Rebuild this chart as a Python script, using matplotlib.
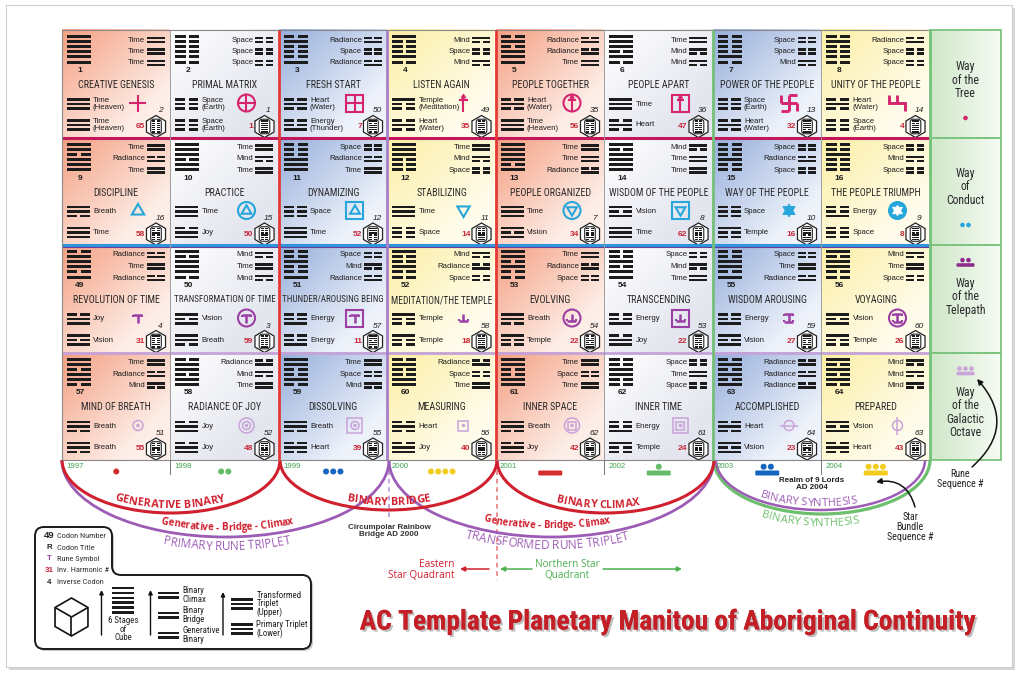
import numpy as np
import matplotlib
matplotlib.use('Agg')
import matplotlib.pyplot as plt
from matplotlib.patches import (Rectangle, Polygon, Circle, PathPatch, RegularPolygon,
                                FancyBboxPatch, Arc)
from matplotlib.path import Path
from matplotlib.collections import PatchCollection
from matplotlib.font_manager import FontProperties, fontManager
from matplotlib.colors import to_rgb
import matplotlib.patheffects as pe

# ---------------------------------------------------------------- DATA
codons = [1, 2, 3, 4, 5, 6, 7, 8,
          9, 10, 11, 12, 13, 14, 15, 16,
          49, 50, 51, 52, 53, 54, 55, 56,
          57, 58, 59, 60, 61, 62, 63, 64]
titles = ['CREATIVE GENESIS', 'PRIMAL MATRIX', 'FRESH START', 'LISTEN AGAIN',
          'PEOPLE TOGETHER', 'PEOPLE APART', 'POWER OF THE PEOPLE', 'UNITY OF THE PEOPLE',
          'DISCIPLINE', 'PRACTICE', 'DYNAMIZING', 'STABILIZING',
          'PEOPLE ORGANIZED', 'WISDOM OF THE PEOPLE', 'WAY OF THE PEOPLE', 'THE PEOPLE TRIUMPH',
          'REVOLUTION OF TIME', 'TRANSFORMATION OF TIME', 'THUNDER/AROUSING BEING', 'MEDITATION/THE TEMPLE',
          'EVOLVING', 'TRANSCENDING', 'WISDOM AROUSING', 'VOYAGING',
          'MIND OF BREATH', 'RADIANCE OF JOY', 'DISSOLVING', 'MEASURING',
          'INNER SPACE', 'INNER TIME', 'ACCOMPLISHED', 'PREPARED']
# binary pairs top / middle / bottom : T=Time S=Space R=Radiance M=Mind
bigrams = ['TTT', 'SSS', 'RSR', 'MSM', 'RRT', 'TMM', 'SSM', 'RSS',
           'TRT', 'TMT', 'SRT', 'TMS', 'TTR', 'MTT', 'SRS', 'SMS',
           'RTR', 'MTM', 'SMR', 'MRS', 'TRS', 'SMT', 'STR', 'MTS',
           'TRM', 'RMT', 'TSM', 'RST', 'TST', 'STS', 'RRR', 'MMM']
upper_trigrams = ['Time (Heaven)', 'Space (Earth)', 'Heart (Water)', 'Temple (Meditation)',
                  'Heart (Water)', 'Time', 'Space (Earth)', 'Heart (Water)',
                  'Breath', 'Time', 'Space', 'Time', 'Time', 'Vision', 'Space', 'Energy',
                  'Joy', 'Vision', 'Energy', 'Temple', 'Breath', 'Energy', 'Energy', 'Vision',
                  'Breath', 'Joy', 'Breath', 'Heart', 'Breath', 'Energy', 'Heart', 'Vision']
lower_trigrams = ['Time (Heaven)', 'Space (Earth)', 'Energy (Thunder)', 'Heart (Water)',
                  'Time (Heaven)', 'Heart', 'Heart (Water)', 'Space (Earth)',
                  'Time', 'Joy', 'Time', 'Space', 'Vision', 'Time', 'Temple', 'Space',
                  'Vision', 'Breath', 'Energy', 'Temple', 'Temple', 'Joy', 'Vision', 'Temple',
                  'Breath', 'Joy', 'Heart', 'Joy', 'Joy', 'Temple', 'Vision', 'Heart']
inverse_codons = [2, 1, 50, 49, 35, 36, 13, 14,
                  16, 15, 12, 11, 7, 8, 10, 9,
                  4, 3, 57, 58, 54, 53, 59, 60,
                  51, 52, 55, 56, 62, 61, 64, 63]
harmonics = [65, 1, 7, 35, 56, 47, 32, 4,
             58, 50, 52, 14, 34, 62, 16, 8,
             31, 59, 11, 18, 22, 22, 27, 26,
             55, 48, 39, 40, 42, 24, 23, 43]
rune_glyphs = ['plus', 'plus', 'plus', 'dagger', 'dagger', 'dagger', 'swas', 'swas2',
               'tri', 'tri', 'tri', 'itri', 'itri', 'itri', 'star', 'star',
               'T', 'T', 'T', 'iT', 'iT', 'iT', 'ibeam', 'ibeam',
               'dot', 'dot', 'dot', 'dot', 'dot', 'dot', 'hbar', 'vbar']
rune_frames = ['', 'c', 's', '', 'c', 's', '', '',
               '', 'c', 's', '', 'c', 's', '', 'c',
               '', 'c', 's', '', 'c', 's', '', 'c',
               'c', 'cc', 'sc', 's', 'cs', 'ss', 'c', 'c']
years = [1997, 1998, 1999, 2000, 2001, 2002, 2003, 2004]
year_counts = [1, 2, 3, 4, 5, 6, 7, 8]
ways = ['Way\nof the\nTree', 'Way\nof\nConduct', 'Way\nof the\nTelepath', 'Way\nof the\nGalactic\nOctave']
way_counts = [1, 2, 7, 8]
legend_items = [('49', 'Codon Number'), ('R', 'Codon Title'), ('T', 'Rune Symbol'),
                ('31', 'Inv. Harmonic #'), ('4', 'Inverse Codon')]
main_title = 'AC Template Planetary Manitou of Aboriginal Continuity'

# ---------------------------------------------------------------- STYLE
names = {f.name for f in fontManager.ttflist}
def pick(*fams):
    for f in fams:
        if f in names:
            return f
    return 'DejaVu Sans'
NARROW = pick('Liberation Sans Narrow', 'Roboto Condensed', 'DejaVu Sans Condensed', 'Roboto')
SANS = pick('Liberation Sans', 'Open Sans', 'DejaVu Sans')
ARCF = pick('Open Sans', 'Lato', 'DejaVu Sans')

BIG = {'T': ('Time', (1, 1)), 'S': ('Space', (0, 0)), 'R': ('Radiance', (0, 1)), 'M': ('Mind', (1, 0))}
TRI = {'Time': (1, 1, 1), 'Space': (0, 0, 0), 'Heart': (0, 1, 0), 'Energy': (0, 0, 1),
       'Temple': (1, 0, 0), 'Breath': (1, 1, 0), 'Vision': (1, 0, 1), 'Joy': (0, 1, 1)}
col_grad = [('#f5a184', '#fdeee8'), ('#ffffff', '#e4e6ef'), ('#98b0dc', '#eef2fa'), ('#fcefa6', '#fffcec')]
rune_colors = ['#d6246e', '#27a6dc', '#9b3fa5', '#c9a3da']
year_colors = ['#d32f2f', '#66bb6a', '#1565c0', '#f2cd1f']
way_colors = ['#d6246e', '#27a6dc', '#8e2c8e', '#c9a3da']
RED = '#d0202e'
PURPLE = '#9c5bb5'
GREEN = '#6cbf6c'
INK = '#1c1c1c'

GX0, GY0, CW, CH = 62.0, 30.0, 108.5, 107.5
RX1 = 1001.0

fig = plt.figure(figsize=(10.18, 6.77), dpi=100)
fig.patch.set_facecolor('white')
ax = fig.add_axes([0, 0, 1, 1])
renderer = fig.canvas.get_renderer()

def tw(s, fp):
    return renderer.get_text_width_height_descent(s, fp, ismath=False)[0]

bars = []
legend_bars = []
def line_bar(x, yc, w, h, solid, gap=0.16, store=None):
    store = bars if store is None else store
    if solid:
        store.append(Rectangle((x, yc - h / 2), w, h))
    else:
        sw = w * (1 - gap) / 2
        store.append(Rectangle((x, yc - h / 2), sw, h))
        store.append(Rectangle((x + w - sw, yc - h / 2), sw, h))

def grad_img(c1, c2, n=24, diag=True):
    c1, c2 = np.array(to_rgb(c1)), np.array(to_rgb(c2))
    u = np.linspace(0, 1, n)
    U, V = np.meshgrid(u, u)
    g = np.clip(0.65 * U + 0.65 * V, 0, 1)[..., None] if diag else U[..., None]
    return c1 * (1 - g) + c2 * g

def seg(pts, color, lw, z=5):
    xs, ys = zip(*pts)
    ax.plot(xs, ys, color=color, lw=lw, solid_capstyle='butt', solid_joinstyle='miter', zorder=z)

# page
page = Rectangle((6, 5), 1006, 662, fc='white', ec='#cfcfcf', lw=0.8, zorder=-10,
                 path_effects=[pe.withSimplePatchShadow(offset=(2, -2), shadow_rgbFace='#bbbbbb', alpha=0.6)])
ax.add_patch(page)

# ---------------------------------------------------------------- RUNES
def draw_rune(cx, cy, glyph, frame, color, row):
    lw = 1.5 if row < 3 else 1.1
    if row == 3:
        fr = {0: [], 1: [5.0], 2: [7.5, 4.0]}[len(frame)]
    else:
        fr = {0: [], 1: [8.5]}[len(frame)]
    for f, rr in zip(frame, fr):
        if glyph == 'star':
            ax.add_patch(Circle((cx, cy), rr, fc=color, ec=color, lw=lw, zorder=5))
        elif f == 'c':
            ax.add_patch(Circle((cx, cy), rr, fill=False, ec=color, lw=lw, zorder=5))
        else:
            ax.add_patch(Rectangle((cx - rr, cy - rr), 2 * rr, 2 * rr, fill=False, ec=color, lw=lw, zorder=5))
    inner = fr[-1] if fr else None
    def P(u, v, s):
        return (cx + u * s, cy + v * s)
    if glyph == 'plus':
        s = inner if inner else 8.5
        seg([P(-1, 0, s), P(1, 0, s)], color, lw)
        seg([P(0, -1, s), P(0, 1, s)], color, lw)
    elif glyph == 'dagger':
        s = inner if inner else 9
        seg([P(0, -0.9, s), P(0, 1, s)], color, lw)
        seg([P(-0.45, -0.3, s), P(0.45, -0.3, s)], color, lw)
        ax.add_patch(Polygon([P(0, -1.0, s), P(-0.28, -0.55, s), P(0.28, -0.55, s)], closed=True,
                             fc=color, ec=color, lw=0.5, zorder=5))
    elif glyph == 'swas':
        s = 8
        seg([P(0, -1, s), P(0, 1, s)], color, lw + 0.6)
        seg([P(-1, 0, s), P(1, 0, s)], color, lw + 0.6)
        seg([P(0, -1, s), P(1, -1, s)], color, lw + 0.6)
        seg([P(1, 0, s), P(1, 1, s)], color, lw + 0.6)
        seg([P(0, 1, s), P(-1, 1, s)], color, lw + 0.6)
        seg([P(-1, 0, s), P(-1, -1, s)], color, lw + 0.6)
    elif glyph == 'swas2':
        s = 8
        seg([P(-1, -1, s), P(-1, 0, s), P(1, 0, s), P(1, 1, s)], color, lw + 0.6)
        seg([P(0, -1, s), P(0, 0, s)], color, lw + 0.6)
    elif glyph in ('tri', 'itri', 'star'):
        s = 5.2 if inner else 6.5
        up = [P(0, -1, s), P(-0.95, 0.62, s), P(0.95, 0.62, s)]
        dn = [P(0, 1, s), P(-0.95, -0.62, s), P(0.95, -0.62, s)]
        if glyph == 'tri':
            ax.add_patch(Polygon(up, closed=True, fill=False, ec=color, lw=lw, zorder=6))
        elif glyph == 'itri':
            ax.add_patch(Polygon(dn, closed=True, fill=False, ec=color, lw=lw, zorder=6))
        else:
            fc = 'white' if inner else color
            for tri in (up, dn):
                ax.add_patch(Polygon(tri, closed=True, fc=fc, ec=fc, lw=0.6, zorder=6))
    elif glyph in ('T', 'iT'):
        s = 4.5
        k = 1 if glyph == 'T' else -1
        seg([P(-1, -0.7 * k, s), P(1, -0.7 * k, s)], color, lw + 0.3)
        seg([P(0, -0.7 * k, s), P(0, 1 * k, s)], color, lw + 0.3)
        seg([P(-1, -0.7 * k, s), P(-1, -0.25 * k, s)], color, lw)
        seg([P(1, -0.7 * k, s), P(1, -0.25 * k, s)], color, lw)
    elif glyph == 'ibeam':
        s = 4.5
        for k in (1, -1):
            seg([P(-1, 0.9 * k, s), P(1, 0.9 * k, s)], color, lw + 0.3)
            seg([P(-1, 0.9 * k, s), P(-1, 0.45 * k, s)], color, lw)
            seg([P(1, 0.9 * k, s), P(1, 0.45 * k, s)], color, lw)
        seg([P(0, -0.9, s), P(0, 0.9, s)], color, lw + 0.3)
    elif glyph == 'dot':
        ax.add_patch(Circle((cx, cy), 1.4, fc=color, ec=color, lw=0.5, zorder=6))
    elif glyph == 'hbar':
        seg([P(-1, 0, 9), P(1, 0, 9)], color, lw)
    elif glyph == 'vbar':
        seg([P(0, -1, 9), P(0, 1, 9)], color, lw)

# ---------------------------------------------------------------- CELLS
fp_lab = FontProperties(family=SANS, size=5.6)
fp_tit = FontProperties(family=NARROW, size=7.2)
fp_num = FontProperties(family=SANS, size=6.0, weight='bold')
for k in range(32):
    r, c = divmod(k, 8)
    x0 = GX0 + c * CW
    y0 = GY0 + r * CH
    c1, c2 = col_grad[c % 4]
    ax.imshow(grad_img(c1, c2), extent=(x0, x0 + CW, y0 + CH, y0), origin='upper',
              interpolation='bilinear', zorder=0)
    # hexagram
    hexlines = sum((BIG[ch][1] for ch in bigrams[k]), ())
    for i, v in enumerate(hexlines):
        line_bar(x0 + 5, y0 + 6.5 + i * 5.1, 24, 3.0, v)
    ax.text(x0 + 18, y0 + 40.5, str(codons[k]), ha='center', va='center', fontproperties=fp_num,
            color=INK, zorder=6)
    # binary pairs
    for j, ch in enumerate(bigrams[k]):
        yc = y0 + 10 + j * 11.5
        nm, ln = BIG[ch]
        line_bar(x0 + 85, yc - 2.1, 18, 2.4, ln[0])
        line_bar(x0 + 85, yc + 2.1, 18, 2.4, ln[1])
        ax.text(x0 + 83, yc, nm, ha='right', va='center', fontproperties=fp_lab, color=INK, zorder=6)
    # title
    fs = 7.2
    w = tw(titles[k], fp_tit)
    if w > 101:
        fs = 7.2 * 101 / w
    ax.text(x0 + CW / 2, y0 + 55, titles[k], ha='center', va='center', color='#2a2a2a',
            fontproperties=FontProperties(family=NARROW, size=fs), zorder=6)
    # trigrams
    for j, lab in enumerate((upper_trigrams[k], lower_trigrams[k])):
        yc = y0 + 74 + j * 21
        nm = lab.split(' (')[0]
        for i, v in enumerate(TRI[nm]):
            line_bar(x0 + 5, yc - 4.5 + i * 4.5, 23, 2.6, v)
        ax.text(x0 + 31, yc, lab.replace(' (', '\n('), ha='left', va='center', fontproperties=fp_lab,
                color=INK, linespacing=0.95, zorder=6)
    # rune
    draw_rune(x0 + 76, y0 + 73, rune_glyphs[k], rune_frames[k], rune_colors[r], r)
    # inverse codon + harmonic
    ax.text(x0 + 98, y0 + 81, str(inverse_codons[k]), ha='center', va='center', color=INK,
            fontproperties=FontProperties(family=SANS, size=6, style='italic'), zorder=6)
    ax.text(x0 + 83, y0 + 96.5, str(harmonics[k]), ha='right', va='center', color='#c62838',
            fontproperties=FontProperties(family=SANS, size=6, weight='bold'), zorder=6)
    hx, hy = x0 + 94, y0 + 96.5
    ax.add_patch(RegularPolygon((hx, hy), 6, radius=11, orientation=0, fc='white', ec='#222222',
                                lw=0.9, zorder=5))
    ax.add_patch(FancyBboxPatch((hx - 5.3, hy - 7.3), 10.6, 14.6, boxstyle='round,pad=0,rounding_size=3',
                                fill=False, ec='#222222', lw=0.8, zorder=6))
    for i, v in enumerate(hexlines):
        line_bar(hx - 3.7, hy - 5.4 + i * 2.16, 7.4, 1.25, 1 - v, gap=0.22)

# ---------------------------------------------------------------- GRID LINES
hcol = ['#8a8a8a', '#c2185b', '#2f95dc', '#c5a3d9', '#8a8a8a']
hlw = [0.8, 2.2, 2.2, 2.0, 0.8]
vcol = ['#8a8a8a', '#9e9e9e', '#e53935', '#a77fc9', '#e53935', '#9e9e9e', '#74bf78', '#9e9e9e', '#74bf78']
vlw = [0.8, 0.7, 2.0, 2.0, 2.0, 0.7, 2.0, 0.7, 2.0]
for i in range(5):
    y = GY0 + i * CH
    ax.plot([GX0, GX0 + 8 * CW], [y, y], color=hcol[i], lw=hlw[i], zorder=7, solid_capstyle='butt')
ax.plot([GX0, GX0 + 8 * CW], [GY0 + 2 * CH + 1.8] * 2, color='#6a3d9a', lw=0.8, zorder=7)
for i in range(9):
    x = GX0 + i * CW
    ax.plot([x, x], [GY0, GY0 + 4 * CH], color=vcol[i], lw=vlw[i], zorder=7, solid_capstyle='butt')

# ---------------------------------------------------------------- RIGHT COLUMN
fp_way = FontProperties(family=NARROW, size=8.5)
def mayan(x, y, n, color, dr, bw, bh, sp):
    nb, nd = n // 5, n % 5
    yb = y
    if nb:
        ax.add_patch(FancyBboxPatch((x - bw / 2, yb - bh / 2), bw, bh, boxstyle='round,pad=0,rounding_size=1.2',
                                    fc=color, ec='none', zorder=8))
        yd = yb - bh / 2 - dr - 0.8
    else:
        yd = y
    for i in range(nd):
        ax.add_patch(Circle((x + (i - (nd - 1) / 2) * sp, yd), dr, fc=color, ec='none', zorder=8))

way_text_y = [50, 49, 52, 60]
way_sym_y = [88, 87.5, 20, 21]
for r in range(4):
    y0 = GY0 + r * CH
    ax.imshow(grad_img('#cfe7c8', '#f6fbf4', diag=False), extent=(GX0 + 8 * CW, RX1, y0 + CH, y0),
              origin='upper', interpolation='bilinear', zorder=0)
    ax.add_patch(Rectangle((GX0 + 8 * CW, y0), RX1 - GX0 - 8 * CW, CH, fill=False, ec='#7cc47f', lw=1.3, zorder=7))
    xc = (GX0 + 8 * CW + RX1) / 2
    ax.text(xc, y0 + way_text_y[r], ways[r], ha='center', va='center', fontproperties=fp_way,
            color='#2a2a2a', linespacing=1.05, zorder=8)
    mayan(xc, y0 + way_sym_y[r], way_counts[r], way_colors[r], 2.3, 18, 3.6, 6.0)

# ---------------------------------------------------------------- YEAR STRIP
fp_year = FontProperties(family=SANS, size=5.6)
for i, yr in enumerate(years):
    x0 = GX0 + i * CW
    ax.text(x0 + 4, 466.5, str(yr), ha='left', va='center', fontproperties=fp_year, color='#3da34a', zorder=8)
    mayan(x0 + CW / 2, 473 if year_counts[i] >= 5 else 471.5, year_counts[i], year_colors[i % 4], 3.0, 24, 5, 7.2)
for i in (1, 5, 7):
    x = GX0 + i * CW
    ax.plot([x, x], [460, 474], color='#777777', lw=0.7, zorder=7)

# ---------------------------------------------------------------- ARCS
def arc(cx, a, b, color, lw):
    ax.add_patch(Arc((cx, 460), 2 * a, 2 * b, theta1=0, theta2=180, ec=color, lw=lw, zorder=4))

def arc_text(s, cx, a, b, xc, d, target, color, family=ARCF, weight='bold'):
    fp0 = FontProperties(family=family, weight=weight, size=8)
    def widths(fp):
        return [tw(ch, fp) if ch != ' ' else tw('a a', fp) - tw('aa', fp) for ch in s]
    fsz = 8 * target / sum(widths(fp0))
    fp = FontProperties(family=family, weight=weight, size=fsz)
    ws = widths(fp)
    dd = d - 0.36 * fsz * 100 / 72
    a2, b2 = a - dd, b - dd
    t = np.linspace(np.pi, 0, 4000)
    px = cx + a2 * np.cos(t)
    py = 460 + b2 * np.sin(t)
    sl = np.concatenate([[0], np.cumsum(np.hypot(np.diff(px), np.diff(py)))])
    pos = np.interp(xc, px, sl) - sum(ws) / 2
    for ch, w in zip(s, ws):
        sc = pos + w / 2
        x = np.interp(sc, sl, px)
        y = np.interp(sc, sl, py)
        dx = np.interp(sc + 0.5, sl, px) - np.interp(sc - 0.5, sl, px)
        dy = np.interp(sc + 0.5, sl, py) - np.interp(sc - 0.5, sl, py)
        rot = -np.degrees(np.arctan2(dy, dx))
        ax.text(x, y, ch, rotation=rot, rotation_mode='anchor', ha='center', va='baseline',
                fontproperties=fp, color=color, zorder=9)
        pos += w

arc(225.5, 163.5, 77, PURPLE, 2.0)
arc(551.5, 162.5, 77, PURPLE, 2.0)
arc(822.0, 108.0, 54, GREEN, 2.3)
arc(820.5, 104.5, 50, PURPLE, 1.8)
arc(171.0, 109.0, 53, RED, 2.2)
arc(388.5, 108.5, 50, RED, 2.2)
arc(605.5, 108.5, 53, RED, 2.2)
ax.plot([389, 389], [462, 520], color='#b38fcf', lw=1.1, ls=(0, (3, 2.5)), zorder=3)
ax.plot([497, 497], [462, 580], color='#e57373', lw=1.1, ls=(0, (3, 2.5)), zorder=3)

arc_text('GENERATIVE BINARY', 171.0, 109.0, 53, 170, 9, 112, RED)
arc_text('BINARY BRIDGE', 388.5, 108.5, 50, 389, 9, 86, RED)
arc_text('BINARY CLIMAX', 605.5, 108.5, 53, 598, 9, 84, RED)
arc_text('Generative - Bridge - Climax', 225.5, 163.5, 77, 227, 10, 135, RED)
arc_text('PRIMARY RUNE TRIPLET', 225.5, 163.5, 77, 227, -9, 130, PURPLE, weight='normal')
arc_text('Generative - Bridge- Climax', 551.5, 162.5, 77, 547, 12, 130, RED)
arc_text('TRANSFORMED RUNE TRIPLET', 551.5, 162.5, 77, 547, -8, 168, PURPLE, weight='normal')
arc_text('BINARY SYNTHESIS', 820.5, 104.5, 50, 808, 8, 100, PURPLE, weight='normal')
arc_text('BINARY SYNTHESIS', 822.0, 108.0, 54, 810, -8, 100, GREEN, weight='normal')

fp_small = FontProperties(family=SANS, size=5.8, weight='bold')
ax.text(389, 531, 'Circumpolar Rainbow\nBridge AD 2000', ha='center', va='center', fontproperties=fp_small,
        color='#333333', linespacing=1.05, zorder=9)
ax.text(812, 484, 'Realm of 9 Lords\nAD 2004', ha='center', va='center', fontproperties=fp_small,
        color='#222222', linespacing=1.05, zorder=9)
fp_q = FontProperties(family=ARCF, size=7.2)
ax.text(455, 570, 'Eastern\nStar Quadrant', ha='right', va='center', fontproperties=fp_q, color=RED,
        linespacing=1.0, zorder=9)
ax.text(567, 570, 'Northern Star\nQuadrant', ha='center', va='center', fontproperties=fp_q, color='#4caf50',
        linespacing=1.0, zorder=9)
arrow_kw = dict(arrowstyle='-|>', lw=1.1, mutation_scale=7, shrinkA=0, shrinkB=0)
ax.annotate('', xy=(460, 569), xytext=(489, 569), arrowprops=dict(color=RED, **arrow_kw), zorder=9)
ax.annotate('', xy=(500, 569), xytext=(532, 569), arrowprops=dict(color='#4caf50', **arrow_kw), zorder=9)
ax.annotate('', xy=(682, 569), xytext=(603, 569), arrowprops=dict(color='#4caf50', **arrow_kw), zorder=9)

fp_note = FontProperties(family=NARROW, size=7.2)
ax.text(910, 527, 'Star\nBundle\nSequence #', ha='center', va='center', fontproperties=fp_note,
        color='#222222', linespacing=1.05, zorder=9)
ax.annotate('', xy=(876, 482), xytext=(915, 507),
            arrowprops=dict(arrowstyle='-|>', color='#111111', lw=1.1, mutation_scale=8,
                            connectionstyle='arc3,rad=0.45', shrinkA=0, shrinkB=0), zorder=9)
ax.text(960, 479, 'Rune\nSequence #', ha='center', va='center', fontproperties=fp_note,
        color='#222222', linespacing=1.05, zorder=9)
ax.annotate('', xy=(977, 379), xytext=(972, 467),
            arrowprops=dict(arrowstyle='-|>', color='#111111', lw=1.1, mutation_scale=8,
                            connectionstyle='arc3,rad=0.5', shrinkA=0, shrinkB=0), zorder=9)

# ---------------------------------------------------------------- LEGEND
def rounded_poly(pts, rr):
    verts, codes = [], []
    n = len(pts)
    for i in range(n):
        p0, p1, p2 = np.array(pts[i - 1], float), np.array(pts[i], float), np.array(pts[(i + 1) % n], float)
        d1 = (p0 - p1) / np.linalg.norm(p0 - p1)
        d2 = (p2 - p1) / np.linalg.norm(p2 - p1)
        verts.append(p1 + d1 * rr)
        codes.append(Path.MOVETO if i == 0 else Path.LINETO)
        verts += [p1, p1 + d2 * rr]
        codes += [Path.CURVE3, Path.CURVE3]
    verts.append(verts[0])
    codes.append(Path.CLOSEPOLY)
    return Path(verts, codes)

ax.add_patch(PathPatch(rounded_poly([(35, 527), (112, 527), (112, 575), (311, 575), (311, 649), (35, 649)], 9),
                       fc='white', ec='#1a1a1a', lw=1.4, zorder=8,
                       path_effects=[pe.withSimplePatchShadow(offset=(1.5, -1.5), shadow_rgbFace='#999999', alpha=0.5)]))
fp_leg = FontProperties(family=NARROW, size=6.4)
sym_colors = ['#222222', '#222222', '#9b3fa5', '#c62838', '#222222']
for i, (sym, lab) in enumerate(legend_items):
    yy = 536 + i * 11.5
    ax.text(49, yy, sym, ha='center', va='center', color=sym_colors[i], zorder=9,
            fontproperties=FontProperties(family=SANS, size=6.8 if i == 0 else 5.8, weight='bold'))
    ax.text(57, yy, lab, ha='left', va='center', fontproperties=FontProperties(family=NARROW, size=6.0),
            color='#333333', zorder=9)
# cube
cxq, cyq, rq = 71.5, 617, 19
ang = np.radians([90, 30, -30, -90, -150, 150])
hexv = [(cxq + rq * np.cos(a_), cyq - rq * np.sin(a_)) for a_ in ang]
ax.add_patch(Polygon(hexv, closed=True, fill=False, ec='#111111', lw=1.2, zorder=9))
for vi in (1, 3, 5):
    seg([(cxq, cyq), hexv[vi]], '#111111', 1.2, z=9)
arr = dict(arrowstyle='-|>', color='#111111', lw=1.0, mutation_scale=6, shrinkA=0, shrinkB=0)
for xa, ya in ((101.5, 590), (150.5, 590), (223, 592)):
    ax.annotate('', xy=(xa, ya), xytext=(xa, 635), arrowprops=arr, zorder=9)
for i in range(6):
    line_bar(112.5, 588 + i * 4.9, 21.5, 2.6, 1, store=legend_bars)
ax.text(123.5, 629, '6 Stages\nof\nCube', ha='center', va='center', fontproperties=fp_leg, color='#222222',
        linespacing=0.88, zorder=9)
for j, lab in enumerate(['Binary\nClimax', 'Binary\nBridge', 'Generative\nBinary']):
    yc = 595 + j * 20
    line_bar(158, yc - 2.2, 21.5, 2.6, 1, store=legend_bars)
    line_bar(158, yc + 2.2, 21.5, 2.6, 1, store=legend_bars)
    ax.text(182.5, yc, lab, ha='left', va='center', fontproperties=fp_leg, color='#222222',
            linespacing=0.88, zorder=9)
for j, (lab, yc) in enumerate([('Transformed\nTriplet\n(Upper)', 604), ('Primary Triplet\n(Lower)', 629)]):
    for i in range(3):
        line_bar(231, yc - 4.3 + i * 4.3, 22, 2.6, 1, store=legend_bars)
    ax.text(256.5, yc, lab, ha='left', va='center', fontproperties=fp_leg, color='#222222',
            linespacing=0.88, zorder=9)

# ---------------------------------------------------------------- TITLE
fp_t0 = FontProperties(family=NARROW, weight='bold', size=20)
fs_title = 20 * 615 / tw(main_title, fp_t0)
ax.text(667.5, 622, main_title, ha='center', va='center', color='#c41e26',
        fontproperties=FontProperties(family=NARROW, weight='bold', size=fs_title), zorder=9,
        path_effects=[pe.withSimplePatchShadow(offset=(1.5, -1.5), shadow_rgbFace='#8a8a8a', alpha=0.55),
                      pe.Normal()])

ax.add_collection(PatchCollection(bars, facecolor=INK, edgecolor='none', zorder=6))
ax.add_collection(PatchCollection(legend_bars, facecolor=INK, edgecolor='none', zorder=10))

ax.set_aspect('auto')
ax.set_xlim(0, 1018)
ax.set_ylim(677, 0)
ax.axis('off')
fig.savefig('out.png', dpi=100, facecolor='white')
